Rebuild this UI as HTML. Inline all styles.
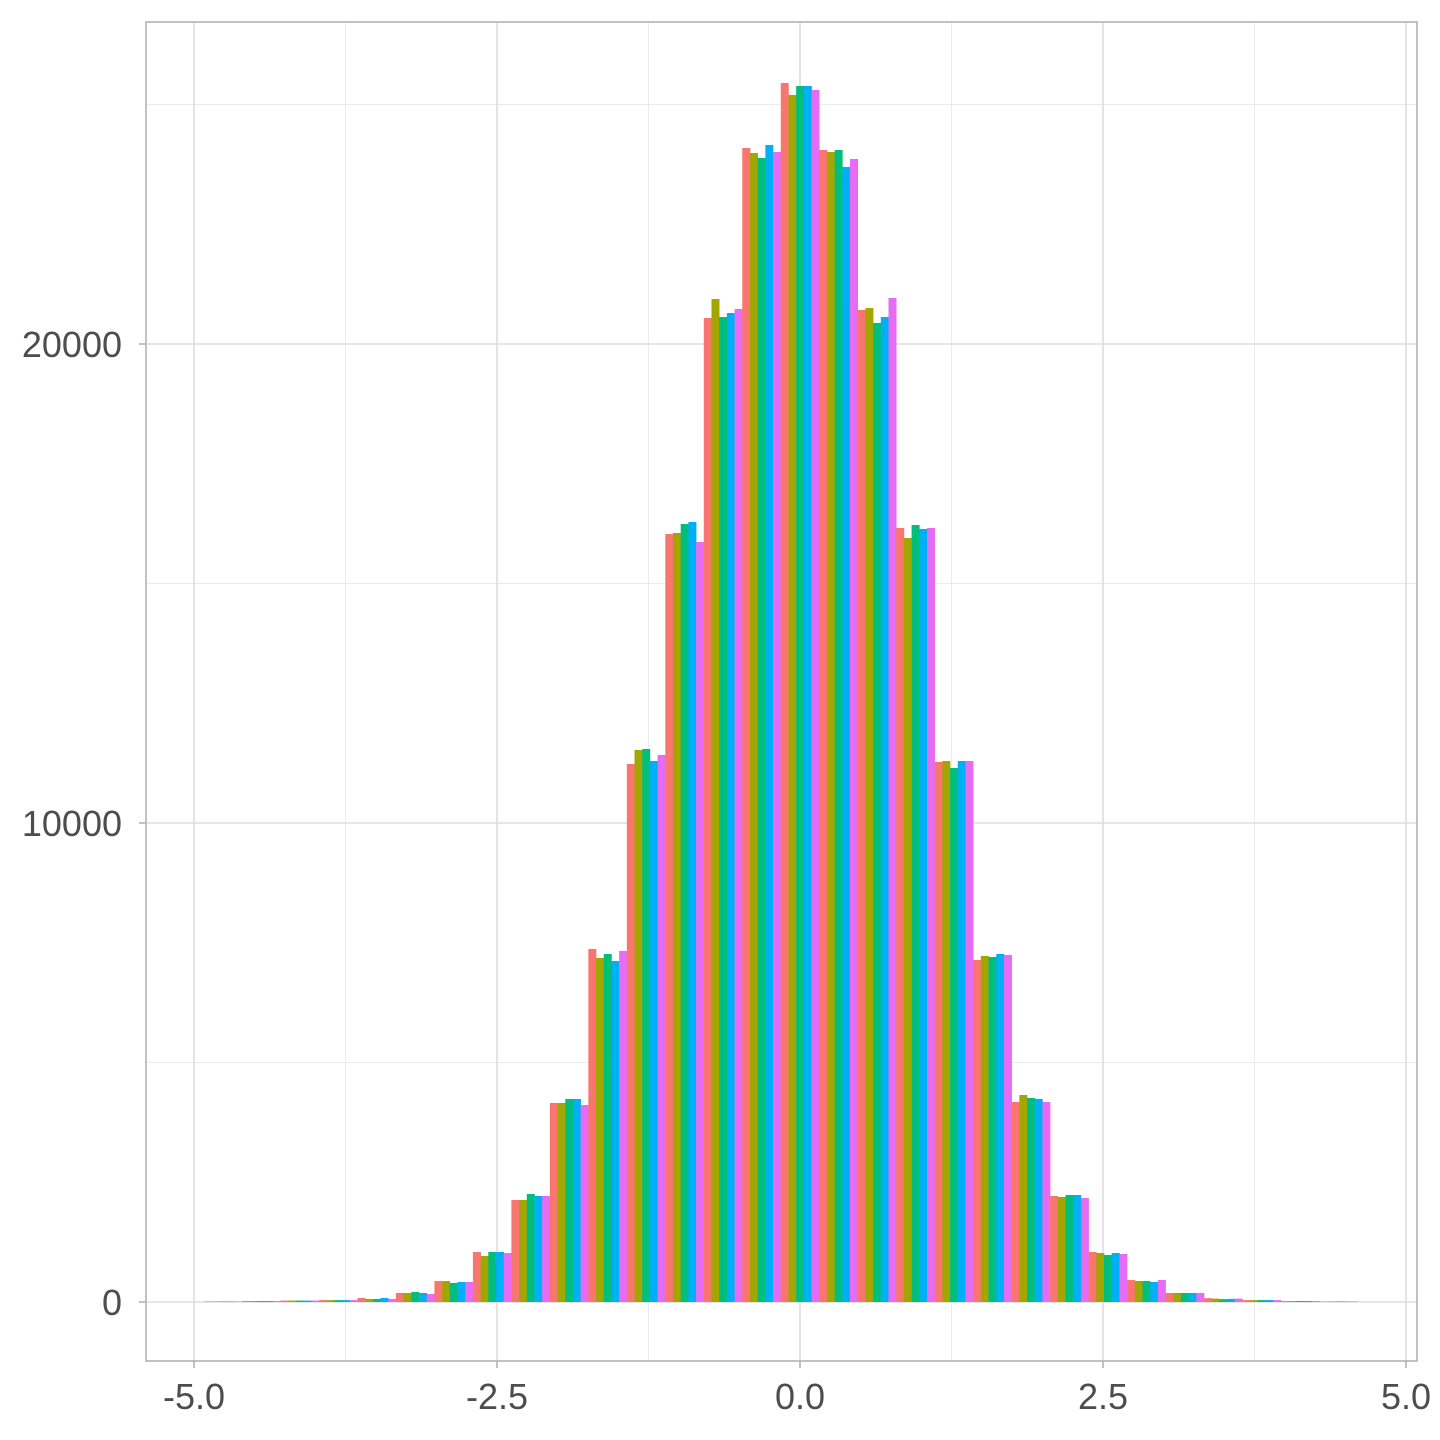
<!DOCTYPE html>
<html><head><meta charset="utf-8"><style>
body{margin:0;background:#fff}
svg{display:block;font-family:"Liberation Sans",sans-serif}
</style></head><body>
<svg id="chart" width="1440" height="1440" viewBox="0 0 1440 1440"></svg>
<script>
const binCenters=[-15,-14,-13,-12,-11,-10,-9,-8,-7,-6,-5,-4,-3,-2,-1,0,1,2,3,4,5,6,7,8,9,10,11,12,13,14];
const binWidth=0.3175;
const s1=[10,20,30,40,84,188,438,1044,2129,4155,7370,11232,16033,20543,24092,25449,24050,20710,16159,11274,7140,4175,2213,1044,459,188,80,40,20,10];
const s2=[10,20,30,40,63,188,438,960,2129,4155,7182,11524,16054,20939,23987,25199,24008,20752,15950,11294,7223,4322,2192,1023,438,188,70,40,20,10];
const s3=[10,20,30,40,63,209,397,1044,2255,4238,7265,11545,16242,20564,23883,25386,24050,20439,16221,11148,7203,4259,2234,981,438,188,60,40,20,10];
const s4=[10,20,30,40,84,188,418,1044,2213,4238,7119,11294,16284,20647,24155,25386,23696,20564,16138,11294,7265,4238,2234,1023,418,188,65,40,20,10];
const s5=[10,20,30,40,63,167,418,1023,2213,4113,7328,11420,15866,20731,24008,25303,23862,20960,16159,11294,7244,4175,2171,1002,459,188,70,40,20,10];
const series=[s1,s2,s3,s4,s5];
const colors=["#F8766D","#A3A500","#00BF7D","#00B0F6","#E76BF3"];
const xMajor=[-5,-2.5,0,2.5,5];
const xMinor=[-3.75,-1.25,1.25,3.75];
const xLabels=["-5.0","-2.5","0.0","2.5","5.0"];
const yMajor=[0,10000,20000];
const yMinor=[5000,15000,25000];
const yLabels=["0","10000","20000"];

const NS="http://www.w3.org/2000/svg";
const svg=document.getElementById('chart');
const L=146,R=1417,T=22,B=1361;
const X=v=>800+v*121.2;
const Y=v=>1302-v*0.0479;
function mk(t,a,p){const e=document.createElementNS(NS,t);for(const k in a)e.setAttribute(k,a[k]);(p||svg).appendChild(e);return e;}
const bg=mk('rect',{x:L,y:T,width:R-L,height:B-T,fill:'#fff'});


yMinor.forEach(v=>{const l=mk('line',{x1:L,x2:R,y1:Y(v),y2:Y(v),stroke:'#ebebeb','stroke-width':1});

});
xMinor.forEach(v=>{const l=mk('line',{x1:X(v),x2:X(v),y1:T,y2:B,stroke:'#ebebeb','stroke-width':1});

});
yMajor.forEach(v=>{const l=mk('line',{x1:L,x2:R,y1:Y(v),y2:Y(v),stroke:'#dedede','stroke-width':1.6});

});
xMajor.forEach(v=>{const l=mk('line',{x1:X(v),x2:X(v),y1:T,y2:B,stroke:'#dedede','stroke-width':1.6});

});
const bw=binWidth/5;
binCenters.forEach((k,i)=>{
  const left=k*binWidth-binWidth/2;
  series.forEach((s,j)=>{
    const x0=X(left+j*bw),x1=X(left+(j+1)*bw);
    const r=mk('rect',{x:x0,y:Y(s[i]),width:x1-x0+0.3,height:Y(0)-Y(s[i]),fill:colors[j]});
    
    
  });
});
const br=mk('rect',{x:L,y:T,width:R-L,height:B-T,fill:'none',stroke:'#b3b3b3','stroke-width':1.6});


yMajor.forEach((v,i)=>{
  const t=mk('line',{x1:L-7,x2:L,y1:Y(v),y2:Y(v),stroke:'#b3b3b3','stroke-width':1.6});
  
  
  const tx=mk('text',{x:122,y:Y(v)+13,'text-anchor':'end','font-size':36,fill:'#4d4d4d'});
  tx.textContent=yLabels[i];
  
  
});
xMajor.forEach((v,i)=>{
  const t=mk('line',{x1:X(v),x2:X(v),y1:B,y2:B+7,stroke:'#b3b3b3','stroke-width':1.6});
  
  
  const tx=mk('text',{x:X(v),y:1409,'text-anchor':'middle','font-size':36,fill:'#4d4d4d'});
  tx.textContent=xLabels[i];
  
  
});
</script>
</body></html>
